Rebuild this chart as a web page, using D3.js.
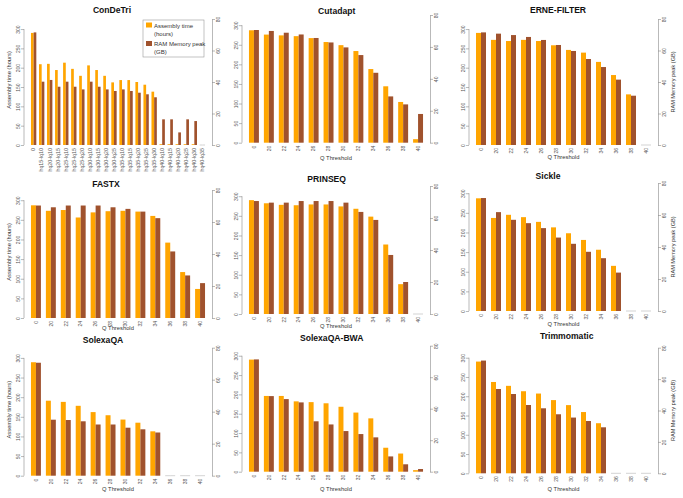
<!DOCTYPE html>
<html><head><meta charset="utf-8">
<script src="https://cdnjs.cloudflare.com/ajax/libs/d3/7.8.5/d3.min.js"></script>
<style>body{margin:0;background:#fff}svg{font-family:"Liberation Sans",Arial,Helvetica,sans-serif}</style>
</head><body><svg id="chart" width="683" height="498"></svg>
<script>
// ---------------- DATA ----------------
const qThresholds = ["0","20","22","24","26","28","30","32","34","36","38","40"];
const condetriCategories = ["0","hq15-lq10","hq20-lq10","hq20-lq15","hq25-lq10","hq25-lq15","hq25-lq20",
  "hq30-lq10","hq30-lq15","hq30-lq20","hq30-lq25","hq35-lq10","hq35-lq15","hq35-lq20","hq35-lq25","hq35-lq30",
  "hq40-lq10","hq40-lq15","hq40-lq20","hq40-lq25","hq40-lq30","hq40-lq35"];
const leftTicks = [0,50,100,150,200,250,300];
const rightTicks = [0,20,40,60,80];
const seriesNames = ["Assembly time (hours)","RAM Memory peak (GB)"];

const condetriTime = [290,209,210,194,213,197,179,206,194,179,162,168,168,163,156,138,2,2,2,2,2,0];
const condetriRam  = [71.5,40.2,41.3,37,40.2,37,35.3,40.2,37,35.3,34.3,35.3,34.3,33.2,32.2,30.3,16.3,16.3,8,16.3,15.2,0];
const cutadaptTime = [287,276,274,272,267,257,249,234,188,144,104,9];
const cutadaptRam  = [70.6,70,68.9,67.8,65.6,62.8,59.7,54.9,43.8,29,24,18];
const erneTime = [290,272,269,272,269,258,246,239,215,181,131,0];
const erneRam  = [71.5,70.7,69.8,68.6,66.7,63.5,59.7,54.6,49.5,41.5,31.3,0];
const fastxTime = [287,273,275,256,269,272,273,271,260,192,117,74];
const fastxRam  = [70.3,69.2,70.3,70.3,70.3,69.2,68.2,66.5,62.4,41.6,26.6,21.8];
const prinseqTime = [290,282,278,277,279,279,274,268,248,177,76,0];
const prinseqRam  = [70.6,69.6,69.6,70.6,70.6,70.6,69.6,63.8,58.8,36.9,20,0];
const sickleTime = [287,237,245,239,227,213,198,181,156,115,0,0];
const sickleRam  = [70.6,61.8,57,54.9,51.8,45.9,42,37,33,24,0,0];
const solexaTime = [289,191,188,178,162,154,143,135,113,0,0,0];
const solexaRam  = [70.6,35,34.8,34,32,32,30,29,27,0,0,0];
const solexaBwaTime = [290,196,196,182,180,177,168,153,138,62,47,4];
const solexaBwaRam  = [71.3,48,46.1,44,32,30,25.8,23.9,21.8,9.7,4.7,1.7];
const trimTime = [290,237,227,213,207,190,177,159,130,0,0,0];
const trimRam  = [71.8,53.7,50.5,43.5,41.4,37.6,35.5,33.3,29.3,0,0,0];

const titles = ["ConDeTri","Cutadapt","ERNE-FILTER","FASTX","PRINSEQ","Sickle","SolexaQA","SolexaQA-BWA","Trimmomatic"];
const categoriesList = [condetriCategories,qThresholds,qThresholds,qThresholds,qThresholds,qThresholds,qThresholds,qThresholds,qThresholds];
const timeList = [condetriTime,cutadaptTime,erneTime,fastxTime,prinseqTime,sickleTime,solexaTime,solexaBwaTime,trimTime];
const ramList = [condetriRam,cutadaptRam,erneRam,fastxRam,prinseqRam,sickleRam,solexaRam,solexaBwaRam,trimRam];

// ---------------- LAYOUT ----------------
const colL = [24,242,469], colR = [212,430,658];
const layout = [
  {top:19,bottom:145,titleX:112,titleY:10,xlabY:null},
  {top:15,bottom:142.7,titleX:336.7,titleY:11,xlabY:158},
  {top:19,bottom:145,titleX:558,titleY:10,xlabY:157},
  {top:190,bottom:318,titleX:106,titleY:184,xlabY:328},
  {top:186,bottom:314,titleX:326.7,titleY:179,xlabY:326},
  {top:183,bottom:311,titleX:548,titleY:175.7,xlabY:324},
  {top:347.7,bottom:475.7,titleX:103,titleY:340,xlabY:489},
  {top:345.7,bottom:471.7,titleX:331.7,titleY:337.7,xlabY:489},
  {top:347.7,bottom:473.3,titleX:566.7,titleY:336,xlabY:489}
];
const ORANGE = "#FFA500", BROWN = "#A0522D", AXIS = "#8a8a8a", TXT = "#555";

const svg = d3.select("#chart");

titles.forEach((title, p) => {
  const col = p % 3, row = Math.floor(p / 3);
  const lay = layout[p];
  const cats = categoriesList[p], time = timeList[p], ram = ramList[p];
  const N = cats.length;
  const L = colL[col], R = colR[col];
  // R barplot-like unit coordinates: groups of 2 bars + 1 space, 4% extension
  const span = 3 * N - 1;
  const u = d3.scaleLinear().domain([1 - 0.04 * span, 3 * N + 0.04 * span]).range([L, R]);
  const xb = d3.scaleBand().domain(cats).range([u(1), u(3 * N)]).paddingInner(1/3).paddingOuter(0);
  const xs = d3.scaleBand().domain(["time","ram"]).range([0, xb.bandwidth()]);
  const yL = d3.scaleLinear().domain([0, 326]).range([lay.bottom, lay.top]);
  const yR = d3.scaleLinear().domain([0, 80]).range([lay.bottom, lay.top]);

  const g = svg.append("g");

  // bars
  cats.forEach((c, i) => {
    [["time", time[i], yL, ORANGE], ["ram", ram[i], yR, BROWN]].forEach(([k, v, sc, col2]) => {
      const x = xb(c) + xs(k), w = xs.bandwidth();
      if (v <= 0) {
        g.append("line").attr("x1", x).attr("x2", x + w).attr("y1", sc(0)).attr("y2", sc(0))
          .attr("stroke", "#c8c8c8").attr("stroke-width", 0.8);
      } else {
        g.append("rect").attr("x", x).attr("width", w).attr("y", sc(v)).attr("height", sc(0) - sc(v))
          .attr("fill", col2);
      }
    });
  });

  // left axis
  const la = g.append("g").attr("transform", `translate(${L},0)`)
    .call(d3.axisLeft(yL).tickValues(leftTicks).tickSize(3).tickSizeOuter(0));
  la.select(".domain").remove();
  la.append("line").attr("x1", 0).attr("x2", 0).attr("y1", yL(0)).attr("y2", yL(300)).attr("stroke", AXIS).attr("stroke-width", 0.6);
  la.selectAll(".tick line").attr("stroke", AXIS).attr("stroke-width", 0.6);
  la.selectAll(".tick text").attr("x", null).attr("dy", null)
    .attr("transform", "translate(-4.5,0) rotate(-90)").attr("text-anchor", "middle")
    .attr("fill", TXT).style("font-size", "5px").style("font-family", "Liberation Sans, Arial, sans-serif");

  // right axis
  const ra = g.append("g").attr("transform", `translate(${R},0)`)
    .call(d3.axisRight(yR).tickValues(rightTicks).tickSize(3).tickSizeOuter(0));
  ra.select(".domain").attr("stroke", AXIS).attr("stroke-width", 0.6);
  ra.selectAll(".tick line").attr("stroke", AXIS).attr("stroke-width", 0.6);
  ra.selectAll(".tick text").attr("x", null).attr("dy", null)
    .attr("transform", "translate(8,0) rotate(-90)").attr("text-anchor", "middle")
    .attr("fill", TXT).style("font-size", "5px").style("font-family", "Liberation Sans, Arial, sans-serif");

  // x category labels (rotated)
  g.selectAll("text.xl").data(cats).enter().append("text").attr("class", "xl")
    .attr("transform", d => `translate(${xb(d) + xb.bandwidth() / 2 + 1.8},${lay.bottom + 3}) rotate(-90)`)
    .attr("text-anchor", "end").attr("fill", TXT)
    .style("font-size", p === 0 ? "5.3px" : "5px").text(d => d);

  // title
  g.append("text").attr("x", lay.titleX).attr("y", lay.titleY + 3).attr("text-anchor", "middle")
    .style("font-weight", "bold").style("font-size", "8.6px").attr("fill", "#111").text(title);

  // x label
  if (lay.xlabY !== null) {
    g.append("text").attr("x", (L + R) / 2).attr("y", lay.xlabY + 2).attr("text-anchor", "middle")
      .style("font-size", "5.8px").attr("fill", "#333").text("Q Threshold");
  }
  const midY = (lay.top + lay.bottom) / 2;
  if (col === 0) {
    g.append("text").attr("transform", `translate(11,${midY - 2}) rotate(-90)`).attr("text-anchor", "middle")
      .style("font-size", "5.8px").attr("fill", "#333").text(seriesNames[0]);
  }
  if (col === 2) {
    g.append("text").attr("transform", `translate(674.5,${midY}) rotate(-90)`).attr("text-anchor", "middle")
      .style("font-size", "5.6px").attr("fill", "#333").text(seriesNames[1]);
  }

  // legend in first panel
  if (p === 0) {
    const lg = g.append("g").attr("transform", "translate(143,20)");
    lg.append("rect").attr("width", 61).attr("height", 37).attr("fill", "none").attr("stroke", "#999").attr("stroke-width", 0.6);
    const entries = [[ORANGE, ["Assembly time", "(hours)"]], [BROWN, ["RAM Memory peak", "(GB)"]]];
    entries.forEach(([c, lines], i) => {
      lg.append("rect").attr("x", 3).attr("y", 2.5 + i * 18.5).attr("width", 6).attr("height", 5).attr("fill", c);
      lines.forEach((t, j) => lg.append("text").attr("x", 11).attr("y", 7.5 + i * 18.5 + j * 8)
        .style("font-size", "6px").attr("fill", "#333").text(t));
    });
  }
});
</script></body></html>
